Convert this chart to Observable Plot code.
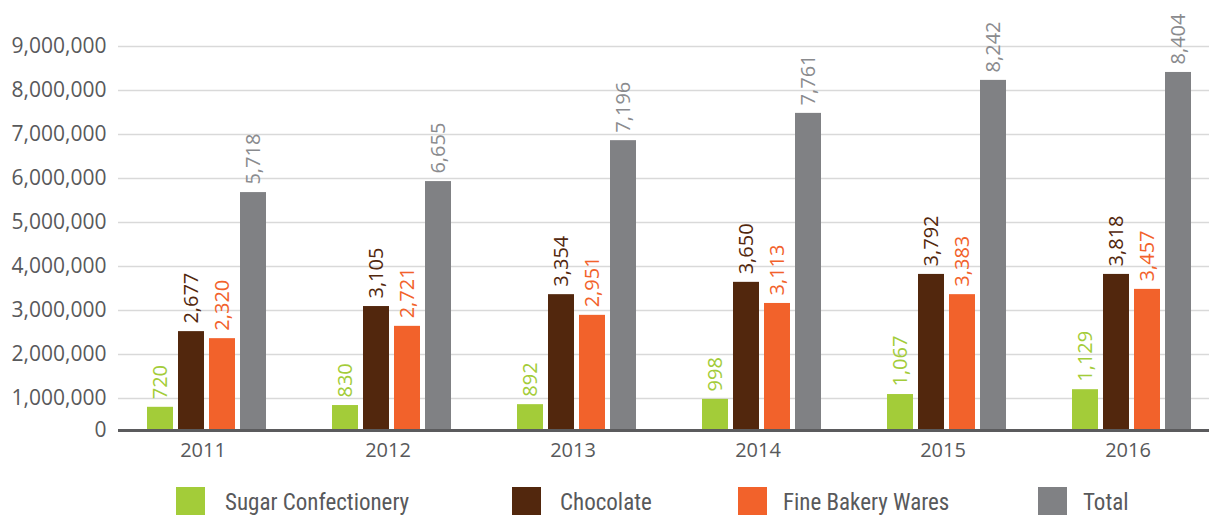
<!DOCTYPE html>
<html>
<head>
<meta charset="utf-8">
<script src="https://cdn.jsdelivr.net/npm/d3@7"></script>
<script src="https://cdn.jsdelivr.net/npm/@observablehq/plot@0.6"></script>
<style>
  html, body { margin: 0; padding: 0; background: #fff; overflow: hidden; }
  #chart { width: 1209px; height: 475px; }
  #legend { position: relative; width: 1209px; height: 40px; font-family: "Liberation Sans Narrow", "Roboto Condensed", Roboto, sans-serif; font-size: 23px; color: #58595b; }
  .item { position: absolute; top: 12px; display: flex; align-items: flex-start; }
  .sw { width: 29px; height: 28px; }
  .lab { position: absolute; top: 3px; white-space: nowrap; line-height: 26px; }
</style>
</head>
<body>
<div id="chart"></div>
<div id="legend"></div>
<script>
const years = ["2011", "2012", "2013", "2014", "2015", "2016"];
const series = ["Sugar Confectionery", "Chocolate", "Fine Bakery Wares", "Total"];
const colors = ["#a3cc39", "#52270d", "#f2622b", "#808184"];
const labelColors = ["#a3cc39", "#52270d", "#f2622b", "#8a8b8e"];

// bar heights as drawn in the reference
const sugar = [800000, 840000, 860000, 980000, 1090000, 1200000];
const chocolate = [2520000, 3090000, 3360000, 3640000, 3820000, 3820000];
const bakery = [2360000, 2640000, 2890000, 3160000, 3360000, 3480000];
const total = [5680000, 5930000, 6860000, 7480000, 8230000, 8410000];

// value labels printed above the bars
const sugarLabels = ["720", "830", "892", "998", "1,067", "1,129"];
const chocolateLabels = ["2,677", "3,105", "3,354", "3,650", "3,792", "3,818"];
const bakeryLabels = ["2,320", "2,721", "2,951", "3,113", "3,383", "3,457"];
const totalLabels = ["5,718", "6,655", "7,196", "7,761", "8,242", "8,404"];

const yTicks = [1000000, 2000000, 3000000, 4000000, 5000000, 6000000, 7000000, 8000000, 9000000];
const axisBase = 272727; // where the reference draws its "0" baseline

const values = [sugar, chocolate, bakery, total];
const labels = [sugarLabels, chocolateLabels, bakeryLabels, totalLabels];
const data = years.flatMap((yr, i) => series.map((s, j) => ({year: yr, series: s, value: values[j][i], label: labels[j][i]})));

const fmt = d3.format(",");
const textMarks = series.map((s, j) => Plot.text(data.filter(d => d.series === s), {
  fx: "year", x: "series", y: "value", text: "label",
  rotate: -90, textAnchor: "start", dy: -8,
  fill: labelColors[j], fontSize: 20
}));

const chart = Plot.plot({
  width: 1209,
  height: 475,
  marginLeft: 116,
  marginRight: -20,
  marginTop: 24,
  marginBottom: 45,
  style: {fontFamily: "'Open Sans', sans-serif", background: "#fff", overflow: "hidden"},
  fx: {domain: years, paddingInner: 0, paddingOuter: 0, label: null, axis: null},
  x: {domain: series, paddingInner: 0.156, paddingOuter: 0.977, align: 0.448, axis: null},
  y: {domain: [axisBase, 9500000], axis: null},
  color: {domain: series, range: colors},
  marks: [
    Plot.gridY(yTicks, {stroke: "#d9d9d9", strokeOpacity: 1, strokeWidth: 1.5}),
    Plot.barY(data, {fx: "year", x: "series", y1: 0, y2: "value", fill: "series", clip: true}),
    Plot.ruleY([axisBase], {stroke: "#5b5b5d", strokeWidth: 3}),
    Plot.axisY([axisBase, ...yTicks], {tickSize: 0, tickPadding: 12, fontSize: 21, color: "#58595b",
      tickFormat: d => d === axisBase ? "0" : fmt(d), label: null}),
    Plot.axisFx({anchor: "bottom", tickSize: 0, tickPadding: 12, fontSize: 20, color: "#58595b", dx: -8, label: null}),
    ...textMarks
  ]
});
document.getElementById("chart").appendChild(chart);

// legend
const legendX = [176, 512, 738, 1038];
const legendTextX = [225, 560, 783, 1083];
const legend = document.getElementById("legend");
series.forEach((s, j) => {
  const sw = document.createElement("div");
  sw.className = "item";
  sw.style.left = legendX[j] + "px";
  sw.innerHTML = `<div class="sw" style="background:${colors[j]}"></div>`;
  legend.appendChild(sw);
  const t = document.createElement("div");
  t.className = "lab";
  t.style.left = legendTextX[j] + "px";
  t.style.top = "15px";
  t.textContent = s;
  legend.appendChild(t);
});
</script>
</body>
</html>
